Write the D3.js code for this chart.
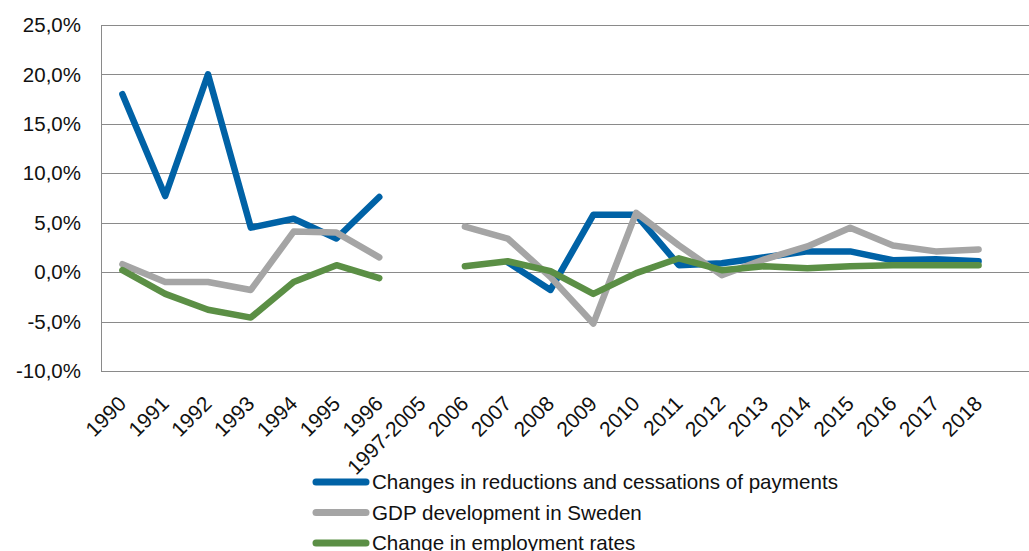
<!DOCTYPE html>
<html>
<head>
<meta charset="utf-8">
<script src="https://cdn.jsdelivr.net/npm/d3@7"></script>
<style>
  body { margin: 0; background: #fff; }
  text { font-family: "Liberation Sans", Arial, sans-serif; fill: #111; }
</style>
</head>
<body>
<div id="chart"></div>
<script>
// categories on the x axis
var years = ["1990","1991","1992","1993","1994","1995","1996","1997-2005",
    "2006","2007","2008","2009","2010","2011","2012","2013","2014","2015","2016","2017","2018"];

// values in percent, null = no data
var reductions = [18.0, 7.7, 20.0, 4.5, 5.4, 3.4, 7.6, null,
    null, 1.0, -1.8, 5.8, 5.8, 0.7, 0.9, 1.5, 2.1, 2.1, 1.2, 1.3, 1.1];
var gdp = [0.8, -1.0, -1.0, -1.8, 4.1, 4.0, 1.5, null,
    4.6, 3.4, -0.5, -5.2, 6.0, 2.7, -0.3, 1.3, 2.6, 4.5, 2.7, 2.1, 2.3];
var employment = [0.2, -2.2, -3.8, -4.6, -1.0, 0.7, -0.6, null,
    0.6, 1.1, 0.1, -2.2, -0.1, 1.4, 0.2, 0.6, 0.4, 0.6, 0.7, 0.7, 0.7];

var seriesNames = ["Changes in reductions and cessations of payments",
    "GDP development in Sweden", "Change in employment rates"];
var seriesColors = ["#0062a6", "#a5a5a5", "#5b8f45"];
var yTicks = [-10, -5, 0, 5, 10, 15, 20, 25];

var series = [reductions, gdp, employment];

var W = 1029, H = 551;
var margin = { top: 25, left: 101, bottom: 180, plotRight: 1000 };

var svg = d3.select("#chart").append("svg")
    .attr("width", W)
    .attr("height", H);

var x = d3.scaleBand()
    .domain(years)
    .range([margin.left, margin.plotRight]);

var y = d3.scaleLinear()
    .domain([-10, 25])
    .range([H - margin.bottom, margin.top]);

// gridlines
svg.append("g").selectAll("line")
    .data(yTicks)
    .enter().append("line")
    .attr("x1", margin.left)
    .attr("x2", W)
    .attr("y1", function(d) { return Math.round(y(d)) + 0.5; })
    .attr("y2", function(d) { return Math.round(y(d)) + 0.5; })
    .attr("stroke", "#8a8a8a")
    .attr("stroke-width", 1);

// left axis line
svg.append("line")
    .attr("x1", margin.left + 0.5).attr("x2", margin.left + 0.5)
    .attr("y1", Math.round(y(25))).attr("y2", Math.round(y(-10)) + 1)
    .attr("stroke", "#8a8a8a");

// y labels
svg.append("g").selectAll("text")
    .data(yTicks)
    .enter().append("text")
    .attr("x", 81)
    .attr("y", function(d) { return y(d); })
    .attr("dy", "0.35em")
    .attr("text-anchor", "end")
    .style("font-size", "20.5px")
    .text(function(d) { return d.toFixed(1).replace(".", ",") + "%"; });

// x labels, rotated
svg.append("g").selectAll("text")
    .data(years)
    .enter().append("text")
    .attr("text-anchor", "end")
    .style("font-size", "21px")
    .attr("transform", function(d) {
        var cx = x(d) + x.bandwidth() / 2 + 5;
        return "translate(" + cx + ",405) rotate(-45)";
    })
    .text(function(d) { return d; });

// lines
var line = d3.line()
    .defined(function(d) { return d.v !== null; })
    .x(function(d) { return x(d.year) + x.bandwidth() / 2; })
    .y(function(d) { return y(d.v); });

series.forEach(function(vals, i) {
    var pts = years.map(function(yr, j) { return { year: yr, v: vals[j] }; });
    svg.append("path")
        .datum(pts)
        .attr("fill", "none")
        .attr("stroke", seriesColors[i])
        .attr("stroke-width", 6.5)
        .attr("stroke-linejoin", "round")
        .attr("stroke-linecap", "round")
        .attr("d", line);
});

// legend
var legend = svg.append("g").selectAll("g")
    .data(seriesNames)
    .enter().append("g")
    .attr("transform", function(d, i) { return "translate(316," + (482 + i * 30.5) + ")"; });

legend.append("line")
    .attr("x1", 0).attr("x2", 50)
    .attr("stroke", function(d, i) { return seriesColors[i]; })
    .attr("stroke-width", 7)
    .attr("stroke-linecap", "round");

legend.append("text")
    .attr("x", 56)
    .attr("dy", "0.36em")
    .style("font-size", "20.6px")
    .text(function(d) { return d; });
</script>
</body>
</html>
